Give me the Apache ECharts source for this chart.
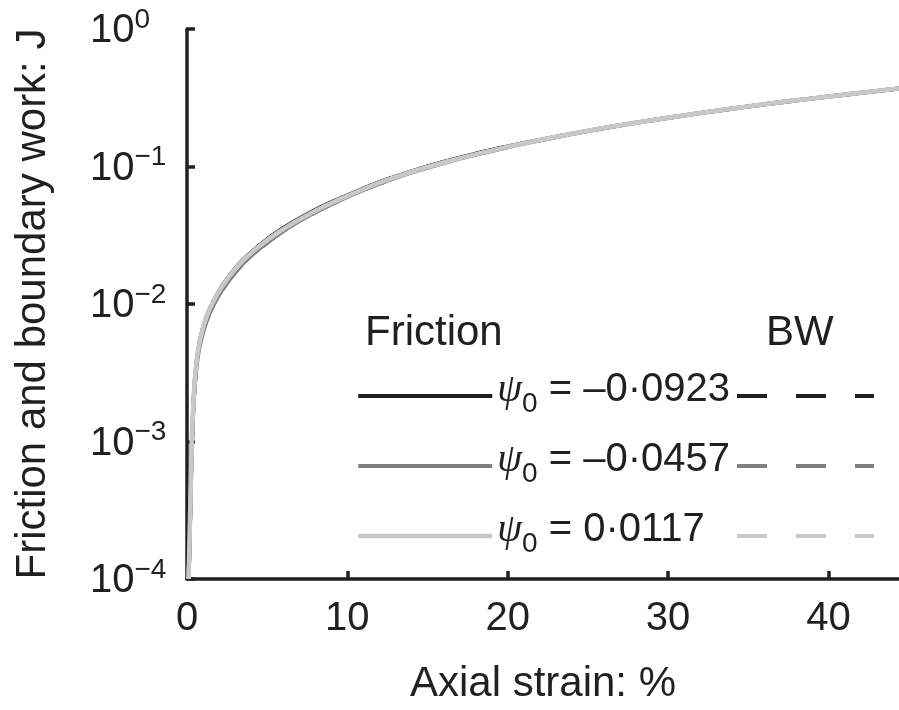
<!DOCTYPE html>
<html>
<head>
<meta charset="utf-8">
<script src="https://cdn.jsdelivr.net/npm/echarts@6/dist/echarts.min.js"></script>
<style>
  html, body { margin: 0; padding: 0; background: #fff; }
  #chart { width: 899px; height: 710px; }
</style>
</head>
<body>
<div id="chart"></div>
<script>
// axial strain (%) shared by all curves
const strain = [0.1, 0.2, 0.3, 0.4, 0.5, 0.7, 1.0, 1.4, 2.2, 3.2, 4.5, 5.8, 7.4, 9.1, 12.4, 16, 19.5, 23.2, 26.7, 30.3, 33.9, 37.6, 41.2, 44.4]

// friction work (J)
const fricA = [0.0001, 0.00030, 0.00094, 0.00184, 0.00288, 0.00462, 0.00673, 0.00912, 0.0136, 0.0193, 0.0266, 0.0344, 0.0443, 0.0556, 0.0800, 0.108, 0.136, 0.166, 0.197, 0.229, 0.263, 0.299, 0.335, 0.370]
const fricB = [0.0001, 0.00028, 0.00088, 0.00172, 0.00268, 0.00430, 0.00625, 0.00850, 0.0127, 0.0181, 0.0251, 0.0327, 0.0425, 0.0538, 0.0782, 0.106, 0.134, 0.165, 0.196, 0.228, 0.262, 0.298, 0.334, 0.369]
const fricC = [0.0001, 0.000316, 0.00100, 0.00191, 0.00295, 0.00468, 0.00676, 0.00912, 0.0135, 0.0191, 0.0263, 0.0339, 0.0437, 0.0550, 0.0794, 0.107, 0.135, 0.166, 0.197, 0.229, 0.263, 0.299, 0.335, 0.370]

// boundary work (J)
const bwA = [0.0001, 0.00030, 0.00094, 0.00183, 0.00287, 0.00460, 0.00670, 0.00910, 0.0135, 0.0192, 0.0265, 0.0343, 0.0442, 0.0555, 0.0799, 0.108, 0.136, 0.166, 0.197, 0.229, 0.263, 0.299, 0.335, 0.370]
const bwB = [0.0001, 0.00028, 0.00087, 0.00170, 0.00266, 0.00428, 0.00622, 0.00846, 0.0126, 0.0180, 0.0250, 0.0326, 0.0424, 0.0537, 0.0781, 0.106, 0.134, 0.165, 0.196, 0.228, 0.262, 0.298, 0.334, 0.369]
const bwC = [0.0001, 0.000312, 0.00099, 0.00190, 0.00293, 0.00466, 0.00673, 0.00908, 0.0134, 0.0190, 0.0262, 0.0338, 0.0436, 0.0549, 0.0793, 0.107, 0.135, 0.166, 0.197, 0.229, 0.263, 0.299, 0.335, 0.370]

const psiLabels = ['–0·0923', '–0·0457', '0·0117']
const xTicks = [0, 10, 20, 30, 40]

const ink = '#231f20'
const colors = ['#231f20', '#808080', '#c8c8c8']
const font = 'Liberation Sans'

const chart = echarts.init(document.getElementById('chart'))

function pairs(vals) {
  return strain.map((x, i) => [x, vals[i]])
}

const fricNames = psiLabels.map(p => 'Friction ' + p)
const bwNames = psiLabels.map(p => 'BW ' + p)
const fric = [fricA, fricB, fricC]
const bw = [bwA, bwB, bwC]

const series = []
for (let i = 0; i < 3; i++) {
  series.push({
    name: fricNames[i],
    type: 'line',
    data: pairs(fric[i]),
    symbol: 'none',
    smooth: 0.3,
    color: colors[i],
    lineStyle: { color: colors[i], width: i === 2 ? 4.5 : 4, type: 'solid' }
  })
  series.push({
    name: bwNames[i],
    type: 'line',
    data: pairs(bw[i]),
    symbol: 'none',
    smooth: 0.3,
    color: colors[i],
    lineStyle: { color: colors[i], width: 4, type: [30, 29] }
  })
}

const legendRich = {
  p: { fontSize: 40, fontStyle: 'italic', fontFamily: 'Liberation Serif', color: ink, lineHeight: 44, padding: [0, 0, 8, 0], verticalAlign: 'bottom' },
  s: { fontSize: 28, fontFamily: font, color: ink, lineHeight: 28, verticalAlign: 'bottom' },
  t: { fontSize: 40, fontFamily: font, color: ink, lineHeight: 44, padding: [0, 0, 8, 0], verticalAlign: 'bottom' }
}

const legendBase = {
  top: 370,
  orient: 'vertical',
  padding: 0,
  itemHeight: 10,
  itemGap: 22,
  selectedMode: false,
  lineStyle: { width: 'inherit' },
  itemStyle: { opacity: 0 },
  textStyle: { rich: legendRich }
}

const option = {
  animation: false,
  backgroundColor: '#fff',
  grid: { left: 187, right: 0, top: 29, bottom: 128 },
  xAxis: {
    type: 'value',
    min: 0,
    max: 44.4,
    interval: 10,
    name: 'Axial strain: %',
    nameLocation: 'middle',
    nameGap: 84,
    nameTextStyle: { fontSize: 42, fontFamily: font, color: ink },
    axisLine: { lineStyle: { color: ink, width: 3.5 } },
    axisTick: { inside: true, length: 8, customValues: [10, 20, 30, 40], lineStyle: { color: ink, width: 3.5 } },
    axisLabel: { customValues: xTicks, fontSize: 40, fontFamily: font, color: ink, margin: 20 },
    splitLine: { show: false }
  },
  yAxis: {
    type: 'log',
    logBase: 10,
    min: 0.0001,
    max: 1,
    name: 'Friction and boundary work: J',
    nameLocation: 'middle',
    nameGap: 133,
    nameTextStyle: { fontSize: 42, fontFamily: font, color: ink },
    axisLine: { show: true, lineStyle: { color: ink, width: 3.5 } },
    axisTick: { inside: true, length: 8, lineStyle: { color: ink, width: 3.5 } },
    axisLabel: {
      align: 'left',
      margin: 97,
      formatter: v => {
        const e = Math.round(Math.log10(v))
        return '{b|10}{s|' + (e === 0 ? '0' : '−' + (-e)) + '}'
      },
      rich: {
        b: { fontSize: 40, fontFamily: font, color: ink, lineHeight: 44, verticalAlign: 'bottom' },
        s: { fontSize: 28, fontFamily: font, color: ink, lineHeight: 28, padding: [0, 0, 17, 0], verticalAlign: 'bottom' }
      }
    },
    splitLine: { show: false }
  },
  legend: [
    Object.assign({}, legendBase, {
      data: fricNames,
      left: 356,
      itemWidth: 134,
      formatter: name => '{p|ψ}{s|0}{t| = ' + psiLabels[fricNames.indexOf(name)] + '}'
    }),
    Object.assign({}, legendBase, {
      data: bwNames,
      left: 735,
      itemWidth: 137,
      formatter: () => '{t| }'
    })
  ],
  graphic: [
    { type: 'text', left: 365, top: 312, style: { text: 'Friction', fontSize: 42, fontFamily: font, fill: ink } },
    { type: 'text', left: 766, top: 312, style: { text: 'BW', fontSize: 42, fontFamily: font, fill: ink } }
  ],
  series: series
}

chart.setOption(option)
</script>
</body>
</html>
